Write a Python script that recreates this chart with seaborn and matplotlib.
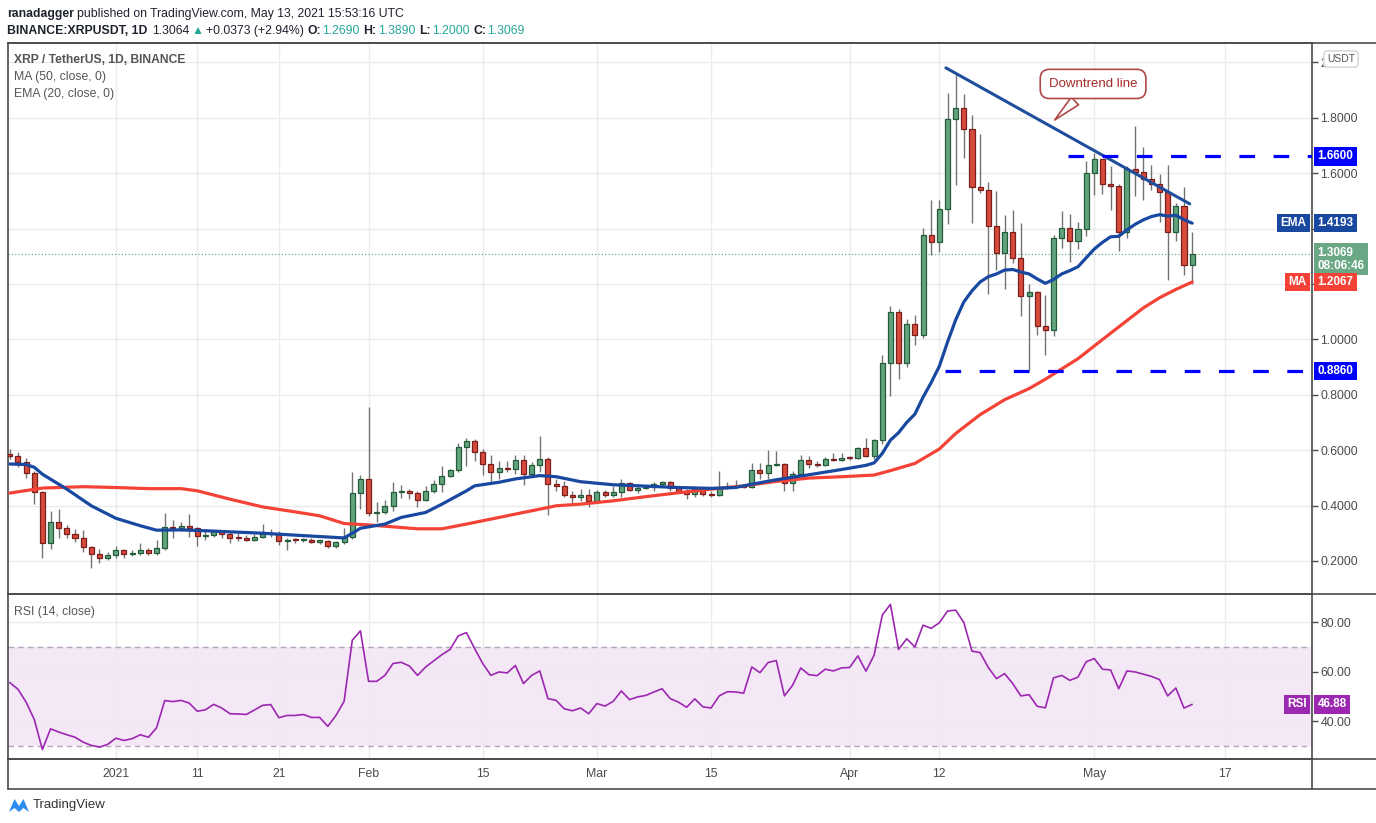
import pandas as pd
import matplotlib
matplotlib.use("Agg")
import matplotlib.pyplot as plt
import matplotlib.dates as mdates
from matplotlib.lines import Line2D
from matplotlib.patches import Polygon
from matplotlib.ticker import FormatStrFormatter
import seaborn as sns

sns.set_theme(style="white")
plt.rcParams["font.family"] = ["Liberation Sans", "DejaVu Sans"]

W, H = 1376, 823
start = pd.Timestamp("2020-12-19")

# daily candles, Dec 19 2020 .. May 13 2021
opens = [
    .586, .580, .556, .517, .449, .263, .340, .318, .297, .284,
    .251, .224, .212, .220, .238, .224, .229, .238, .228, .248,
    .324, .319, .325, .318, .289, .293, .309, .297, .282, .281,
    .277, .287, .297, .297, .272, .276, .274, .276, .270, .272,
    .253, .267, .286, .445, .496, .373, .375, .398, .449, .453,
    .445, .420, .453, .478, .506, .528, .613, .632, .593, .550,
    .521, .535, .531, .566, .514, .548, .568, .478, .469, .438,
    .429, .438, .415, .449, .437, .449, .481, .456, .463, .467,
    .478, .485, .463, .452, .441, .459, .441, .439, .463, .469,
    .468, .466, .528, .516, .547, .551, .481, .514, .564, .550,
    .546, .568, .565, .572, .571, .608, .578, .637, .916, 1.097,
    .916, 1.057, 1.017, 1.376, 1.352, 1.469, 1.795, 1.835, 1.759, 1.549,
    1.539, 1.409, 1.310, 1.386, 1.292, 1.155, 1.172, 1.048, 1.033, 1.364,
    1.401, 1.356, 1.397, 1.600, 1.650, 1.559, 1.555, 1.389, 1.614, 1.603,
    1.578, 1.559, 1.533, 1.389, 1.480, 1.269,
]
highs = [
    .604, .592, .572, .526, .452, .381, .387, .329, .315, .311,
    .254, .242, .232, .254, .242, .238, .264, .248, .277, .374,
    .347, .341, .370, .321, .313, .313, .313, .309, .302, .293,
    .297, .335, .315, .309, .282, .284, .281, .284, .275, .275,
    .272, .319, .522, .510, .757, .414, .421, .486, .474, .459,
    .453, .471, .492, .544, .532, .625, .643, .640, .604, .584,
    .562, .562, .584, .584, .556, .652, .574, .496, .490, .453,
    .459, .460, .456, .456, .470, .496, .486, .478, .470, .486,
    .490, .490, .470, .460, .465, .465, .453, .526, .486, .492,
    .470, .552, .552, .601, .598, .552, .523, .582, .577, .560,
    .574, .590, .589, .580, .613, .644, .641, .942, 1.120, 1.111,
    1.075, 1.087, 1.401, 1.503, 1.503, 1.889, 1.960, 1.887, 1.811, 1.742,
    1.567, 1.536, 1.449, 1.467, 1.419, 1.201, 1.175, 1.159, 1.376, 1.465,
    1.453, 1.425, 1.642, 1.672, 1.650, 1.624, 1.561, 1.624, 1.769, 1.694,
    1.630, 1.597, 1.630, 1.491, 1.549, 1.389,
]
lows = [
    .568, .538, .498, .405, .212, .242, .282, .284, .269, .234,
    .176, .194, .205, .212, .212, .217, .220, .220, .220, .238,
    .284, .309, .287, .254, .277, .287, .284, .263, .272, .272,
    .272, .282, .285, .258, .241, .266, .270, .265, .260, .246,
    .248, .260, .278, .387, .363, .342, .369, .379, .427, .425,
    .393, .415, .447, .450, .502, .521, .544, .562, .510, .482,
    .494, .520, .514, .474, .502, .520, .365, .453, .429, .410,
    .417, .393, .411, .429, .429, .432, .451, .447, .460, .453,
    .472, .453, .446, .422, .432, .435, .429, .434, .458, .465,
    .463, .465, .496, .496, .544, .451, .453, .511, .534, .538,
    .544, .560, .562, .565, .568, .574, .568, .622, .797, .858,
    .900, .978, 1.005, 1.306, 1.316, 1.416, 1.557, 1.654, 1.421, 1.530,
    1.162, 1.252, 1.180, 1.276, 1.085, 0.888, 1.014, 0.942, 1.011, 1.328,
    1.280, 1.325, 1.373, 1.521, 1.525, 1.467, 1.320, 1.367, 1.518, 1.503,
    1.539, 1.425, 1.213, 1.356, 1.232, 1.200,
]
closes = [
    .579, .556, .517, .449, .263, .340, .318, .297, .284, .251,
    .224, .212, .220, .238, .224, .229, .238, .228, .248, .324,
    .319, .325, .318, .289, .293, .309, .297, .282, .281, .277,
    .287, .297, .297, .272, .276, .274, .276, .270, .272, .253,
    .267, .286, .445, .496, .373, .375, .398, .449, .453, .445,
    .420, .453, .478, .506, .528, .613, .632, .593, .550, .521,
    .535, .531, .566, .514, .548, .568, .478, .469, .438, .429,
    .438, .415, .449, .437, .449, .481, .456, .463, .467, .478,
    .485, .463, .452, .441, .459, .441, .439, .463, .469, .468,
    .466, .528, .516, .547, .551, .481, .514, .564, .550, .546,
    .568, .565, .572, .571, .608, .578, .637, .916, 1.097, .916,
    1.057, 1.017, 1.376, 1.352, 1.469, 1.795, 1.835, 1.759, 1.549, 1.539,
    1.409, 1.310, 1.386, 1.292, 1.155, 1.172, 1.048, 1.033, 1.364, 1.401,
    1.356, 1.397, 1.600, 1.650, 1.559, 1.555, 1.389, 1.614, 1.603, 1.578,
    1.559, 1.533, 1.389, 1.480, 1.269, 1.3069,
]

# indicator lines (day offset from Dec 19)
ema_days = [0, 2, 3, 4, 7, 10, 13, 16, 18, 21, 24, 27, 31, 35, 38, 41, 42, 43,
            46, 48, 51, 53, 56, 57, 60, 62, 65, 67, 70, 74, 78, 82, 86, 89, 91,
            94, 98, 102, 104, 105, 106, 107, 108, 109, 110, 111, 112, 113, 114,
            115, 116, 117, 118, 119, 120, 121, 122, 123, 124, 125, 126, 127, 128,
            129, 130, 131, 132, 133, 134, 135, 136, 137, 138, 139, 140, 141, 142,
            143, 144, 145]
ema_vals = [0.550, 0.548, 0.538, 0.513, 0.459, 0.399, 0.354, 0.327, 0.311, 0.312,
            0.309, 0.305, 0.300, 0.293, 0.288, 0.283, 0.300, 0.318, 0.333, 0.357,
            0.375, 0.405, 0.453, 0.471, 0.484, 0.496, 0.508, 0.504, 0.486, 0.475,
            0.470, 0.465, 0.462, 0.465, 0.477, 0.493, 0.511, 0.530, 0.540, 0.545,
            0.554, 0.588, 0.636, 0.663, 0.700, 0.730, 0.791, 0.844, 0.903, 0.990,
            1.070, 1.135, 1.175, 1.207, 1.226, 1.236, 1.250, 1.252, 1.243, 1.236,
            1.218, 1.202, 1.216, 1.236, 1.248, 1.262, 1.294, 1.326, 1.350, 1.370,
            1.372, 1.395, 1.415, 1.431, 1.443, 1.450, 1.445, 1.448, 1.432, 1.4193]
ma_days = [0, 4, 9, 13, 17, 21, 23, 27, 31, 35, 38, 41, 44, 47, 50, 53, 56, 59,
           63, 67, 70, 74, 78, 82, 86, 90, 94, 98, 102, 106, 108, 111, 114, 116,
           119, 122, 125, 127, 131, 135, 139, 141, 143, 145]
ma_vals = [0.445, 0.463, 0.468, 0.465, 0.461, 0.461, 0.453, 0.423, 0.395, 0.377,
           0.363, 0.335, 0.330, 0.323, 0.316, 0.316, 0.333, 0.351, 0.375, 0.399,
           0.405, 0.417, 0.432, 0.446, 0.459, 0.471, 0.487, 0.499, 0.504, 0.510,
           0.526, 0.552, 0.604, 0.660, 0.728, 0.782, 0.822, 0.856, 0.930, 1.022,
           1.113, 1.150, 1.180, 1.2067]
rsi_vals = [
    55.7, 53.0, 47.8, 40.8, 28.6, 37.0, 35.7, 34.6, 33.6, 31.6,
    30.3, 29.6, 30.7, 33.2, 32.3, 33.0, 34.6, 33.6, 37.4, 48.4,
    48.0, 48.5, 47.4, 44.1, 44.7, 46.9, 45.4, 43.1, 43.0, 42.8,
    44.6, 46.5, 46.8, 41.5, 42.4, 42.4, 42.8, 41.6, 41.6, 38.0,
    42.4, 48.1, 72.8, 76.6, 56.2, 56.2, 58.6, 63.4, 63.9, 62.4,
    58.6, 62.0, 64.5, 67.0, 69.1, 74.6, 75.9, 69.5, 63.4, 58.6,
    60.0, 59.6, 62.6, 55.3, 58.6, 60.4, 49.2, 48.5, 45.1, 44.3,
    45.4, 43.1, 47.2, 46.2, 48.1, 52.3, 48.8, 49.9, 50.5, 51.9,
    53.2, 49.2, 47.8, 45.7, 49.1, 45.9, 45.4, 50.3, 52.0, 51.9,
    51.4, 62.0, 59.7, 63.8, 64.6, 50.3, 54.6, 61.6, 58.9, 58.5,
    61.1, 60.4, 61.6, 61.8, 66.5, 60.3, 66.8, 83.0, 87.3, 69.1,
    73.4, 70.1, 78.9, 77.6, 79.9, 84.6, 85.0, 80.0, 68.4, 67.8,
    61.8, 57.3, 59.3, 55.3, 50.3, 50.8, 46.1, 45.5, 57.6, 58.6,
    56.6, 57.9, 64.1, 65.4, 61.1, 60.8, 53.2, 60.4, 60.0, 59.1,
    58.2, 56.9, 50.3, 53.5, 45.4, 46.88,
]

# drawings on the chart
trend_days = [114.8, 144.7]
trend_prices = [1.98, 1.489]
levels = [1.66, 0.886]
level_from_day = [129.8, 114.7]
last_price = 1.3069

tick_dates = ["2021-01-01", "2021-01-11", "2021-01-21", "2021-02-01", "2021-02-15",
              "2021-03-01", "2021-03-15", "2021-04-01", "2021-04-12", "2021-05-01",
              "2021-05-17"]
tick_labels = ["2021", "11", "21", "Feb", "15", "Mar", "15", "Apr", "12", "May", "17"]
price_ticks = [0.2, 0.4, 0.6, 0.8, 1.0, 1.2, 1.4, 1.6, 1.8, 2.0]
rsi_ticks = [40, 60, 80]

UP_FACE, UP_EDGE = "#62a37e", "#235c39"
DN_FACE, DN_EDGE = "#d74b3b", "#7d1e1e"
EMA_C, MA_C, RSI_C = "#1848a0", "#f44336", "#9c27b0"
FRAME = "#4a4a4a"
GRID = "#ebebeb"
TXT = "#4a4a4a"

dates = pd.date_range(start, periods=len(closes), freq="D")


def fx(px):
    return px / W


def fy(py):
    return 1 - py / H


fig = plt.figure(figsize=(W / 100, H / 100), dpi=100)
ax = fig.add_axes([fx(8), fy(594), fx(1312) - fx(8), fy(42.5) - fy(594)])
ax_rsi = fig.add_axes([fx(8), fy(758.5), fx(1312) - fx(8), fy(595) - fy(758.5)], sharex=ax)

# candles
ax.vlines(dates, lows, highs, color="#737373", lw=1, zorder=2)
body_bot = [min(o, c) for o, c in zip(opens, closes)]
body_h = [max(abs(c - o), 0.004) for o, c in zip(opens, closes)]
faces = [UP_FACE if c >= o else DN_FACE for o, c in zip(opens, closes)]
edges = [UP_EDGE if c >= o else DN_EDGE for o, c in zip(opens, closes)]
ax.bar(dates, body_h, bottom=body_bot, width=0.62, color=faces, edgecolor=edges,
       linewidth=0.9, zorder=3)

ema_df = pd.DataFrame({"date": start + pd.to_timedelta(ema_days, unit="D"), "value": ema_vals})
ma_df = pd.DataFrame({"date": start + pd.to_timedelta(ma_days, unit="D"), "value": ma_vals})
sns.lineplot(data=ma_df, x="date", y="value", ax=ax, color=MA_C, lw=2.3, zorder=4)
sns.lineplot(data=ema_df, x="date", y="value", ax=ax, color=EMA_C, lw=2.3, zorder=4)

# trend line, support / resistance levels, last price
trend_x = start + pd.to_timedelta(trend_days, unit="D")
ax.plot(trend_x, trend_prices, color="#1f4e9c", lw=2.2, zorder=5, solid_capstyle="round")
x_end = start + pd.Timedelta(days=170)
for lv, d0 in zip(levels, level_from_day):
    ax.plot([start + pd.Timedelta(days=d0), x_end], [lv, lv], color="#0000ff", lw=2.3,
            dashes=(4.9, 5.8), zorder=5)
ax.axhline(last_price, color="#5b9e7a", lw=0.8, ls=(0, (1, 2)), zorder=1)

ax.annotate("Downtrend line", xy=(start + pd.Timedelta(days=127.9), 1.785),
            xytext=(start + pd.Timedelta(days=132.85), 1.922), textcoords="data",
            ha="center", va="center", fontsize=9.5, color="#a52a2a", zorder=8,
            bbox=dict(boxstyle="round,pad=0.65,rounding_size=0.7", fc="white", ec="#b04848", lw=1.2),
            arrowprops=dict(arrowstyle="wedge,tail_width=0.8,shrink_factor=0.5", fc="white",
                            ec="#b04848", lw=1.2))

# rsi pane
rsi_df = pd.DataFrame({"date": dates, "rsi": rsi_vals})
ax_rsi.axhspan(30, 70, color="#9c27b0", alpha=0.1, lw=0, zorder=0)
for lv in (70, 30):
    ax_rsi.axhline(lv, color="#b3a3bb", lw=1, ls=(0, (4, 3)), zorder=1)
sns.lineplot(data=rsi_df, x="date", y="rsi", ax=ax_rsi, color=RSI_C, lw=1.2, zorder=4)

# axes cosmetics
x0 = mdates.date2num(start)
ax.set_xlim(x0 - 0.22, x0 + 159.7)
ax.set_ylim(0.0806, 2.0715)
ax_rsi.set_ylim(25.0, 91.1)
for a in (ax, ax_rsi):
    a.set_xlabel("")
    a.set_ylabel("")
    a.set_axisbelow(True)
    a.grid(True, color=GRID, lw=1)
    a.yaxis.tick_right()
    a.tick_params(axis="y", direction="out", length=4, width=1, color=FRAME,
                  labelcolor=TXT, labelsize=8.8, pad=2)
    for s in a.spines.values():
        s.set_color(FRAME)
        s.set_linewidth(1.2)
ax_rsi.spines["top"].set_visible(False)

ax_rsi.set_xticks(pd.to_datetime(tick_dates))
ax_rsi.set_xticklabels(tick_labels)
ax.tick_params(axis="x", labelbottom=False, length=0)
ax_rsi.tick_params(axis="x", direction="out", length=4, width=1, color=FRAME,
                   labelcolor=TXT, labelsize=8.8, pad=3)

# 1.2 / 1.4 sit under the MA / EMA tags, and only the "2" of 2.0000 peeks out
# from behind the USDT badge
price_labels = []
for p in price_ticks:
    if p in (1.2, 1.4):
        price_labels.append("")
    elif p == 2.0:
        price_labels.append("2")
    else:
        price_labels.append(f"{p:.4f}")
ax.set_yticks(price_ticks)
ax.set_yticklabels(price_labels)
ax_rsi.set_yticks(rsi_ticks)
ax_rsi.yaxis.set_major_formatter(FormatStrFormatter("%.2f"))


def tag(a, y, text, color, side="right", size=8.5, dy=0, va="center", linespacing=1.2):
    off = 4 if side == "right" else -4
    a.annotate(text, xy=(1, y), xycoords=a.get_yaxis_transform(), xytext=(off, dy),
               textcoords="offset points", ha="left" if side == "right" else "right",
               va=va, fontsize=size, color="white", fontweight="bold", linespacing=linespacing,
               bbox=dict(boxstyle="square,pad=0.28", fc=color, ec=color, lw=0),
               annotation_clip=False, zorder=10)


tag(ax, 1.66, "1.6600", "#0000ff")
tag(ax, 0.886, "0.8860", "#0000ff")
tag(ax, 1.4193, "1.4193", EMA_C)
tag(ax, 1.4193, "EMA", EMA_C, side="left")
tag(ax, last_price, "1.3069\n08:06:46", "#6aa784", dy=5.5, va="top", linespacing=1.15)
tag(ax, 1.2067, "1.2067", MA_C)
tag(ax, 1.2067, "MA", MA_C, side="left")
tag(ax_rsi, 46.88, "46.88", RSI_C)
tag(ax_rsi, 46.88, "RSI", RSI_C, side="left")

fig.text(fx(1341), fy(59), "USDT", ha="center", va="center", fontsize=7.5, color="#555555",
         zorder=20, bbox=dict(boxstyle="round,pad=0.3", fc="white", ec="#cfd2d8", lw=1))

# frame lines of the chart widget
for y in (42.5, 594, 758.5, 789):
    fig.add_artist(Line2D([fx(8), 1], [fy(y), fy(y)], color=FRAME, lw=1.2))
for x in (8, 1312):
    fig.add_artist(Line2D([fx(x), fx(x)], [fy(758.5), fy(789)], color=FRAME, lw=1.2))

# pane legends
fig.text(fx(14), fy(60), "XRP / TetherUS, 1D, BINANCE", fontsize=8.7, color="#555555",
         fontweight="bold", va="center")
fig.text(fx(14), fy(77), "MA (50, close, 0)", fontsize=8.8, color="#555555", va="center")
fig.text(fx(14), fy(94), "EMA (20, close, 0)", fontsize=8.8, color="#555555", va="center")
fig.text(fx(14), fy(612), "RSI (14, close)", fontsize=8.8, color="#555555", va="center")

# header
renderer = fig.canvas.get_renderer()


def chain(pieces, x_px, y_px, size):
    x = x_px
    for s, color, weight, gap in pieces:
        t = fig.text(fx(x), fy(y_px), s, color=color, fontsize=size, fontweight=weight,
                     va="center", ha="left")
        x += t.get_window_extent(renderer=renderer).width + gap


DARK, TEAL = "#1e222d", "#26a69a"
chain([("ranadagger", DARK, "bold", 3),
       ("published on TradingView.com, May 13, 2021 15:53:16 UTC", DARK, "normal", 0)],
      7, 14, 8.8)
chain([("BINANCE:XRPUSDT, 1D", DARK, "bold", 5), ("1.3064", DARK, "normal", 2),
       ("\u25b2", TEAL, "normal", 2), ("+0.0373 (+2.94%)", DARK, "normal", 4),
       ("O:", DARK, "bold", 1), ("1.2690", TEAL, "normal", 4),
       ("H:", DARK, "bold", 1), ("1.3890", TEAL, "normal", 4),
       ("L:", DARK, "bold", 1), ("1.2000", TEAL, "normal", 4),
       ("C:", DARK, "bold", 1), ("1.3069", TEAL, "normal", 0)],
      7, 31, 8.8)

# footer logo
logo = [(9, 812), (14.5, 799), (19, 806), (23.5, 799), (29, 812), (23.5, 808), (19, 812), (14.5, 808)]
fig.add_artist(Polygon([(fx(px), fy(py)) for px, py in logo], closed=True,
                       transform=fig.transFigure, fc="#2e8df0", ec="none"))
fig.text(fx(33), fy(805), "TradingView", fontsize=9.5, color="#333333", va="center")

fig.savefig("out.png", dpi=100)
